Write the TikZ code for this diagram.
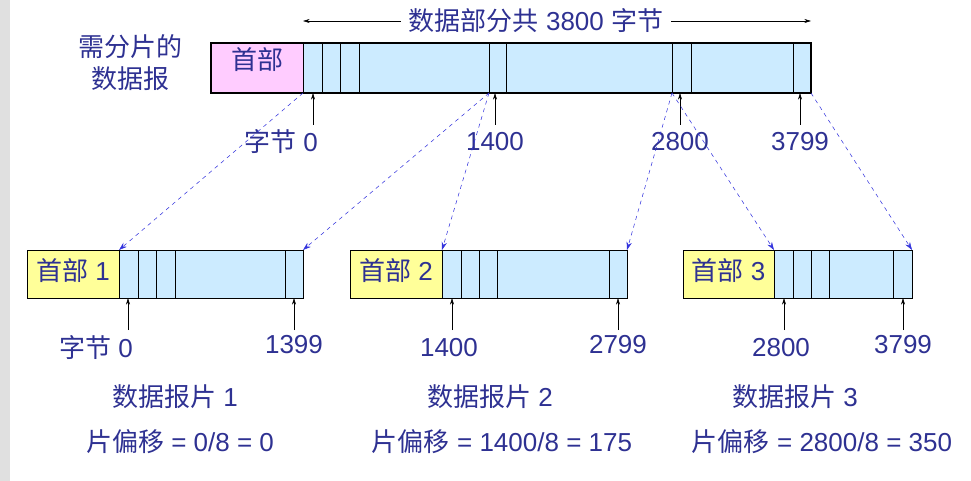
\documentclass[tikz,border=0pt]{standalone}
\usepackage{fontspec}
\setmainfont{Liberation Sans}
\newfontfamily\cjk{Noto Sans CJK SC}
\newcommand{\zh}[1]{{\cjk #1}}
\usetikzlibrary{arrows.meta, positioning}
\definecolor{txtblue}{HTML}{2E3192}
\definecolor{cellblue}{HTML}{CCEBFF}
\definecolor{hdrpink}{HTML}{FFCCFF}
\definecolor{hdryellow}{HTML}{FFFF99}
\definecolor{linkblue}{HTML}{3333DD}

\begin{document}
\begin{tikzpicture}[x=0.75pt, y=-0.75pt,
		every node/.append style={font=\fontsize{19.5}{22}\selectfont, text=txtblue, inner sep=0pt},
		upmark/.style={-{Stealth[length=5pt,width=3pt]}, thin},
		link/.style={dashed, linkblue, -{Stealth[length=6pt,width=4pt]}, thin},]
		\useasboundingbox (0,0) rectangle (971,481);
		\fill[black!12] (0,0) rectangle (10,481);

		% datagram to be fragmented
		\fill[cellblue] (303,43) rectangle (811,93);
		\fill[hdrpink] (211,43) rectangle (303,93);
		\node (hdr) at (257,60) {\zh{首部}};
		\foreach \x in {303,322,340,359,489,506,672,691,793}
			\draw (\x,43) -- (\x,93);
		\draw[very thick] (211,43) rectangle (811,93);
		\node (caption) [align=center] at (130,63) {\zh{需分片的}\\[2pt]\zh{数据报}};

		\node (total) at (536,21) {\zh{数据部分共} 3800 \zh{字节}};
		\draw[-{Stealth[length=5pt,width=3pt]}] (total.west) ++(-8,0) -- (303,21);
		\draw[-{Stealth[length=5pt,width=3pt]}] (total.east) ++(8,0) -- (811,21);

		\foreach \x/\d/\t in {313/-32/\zh{字节} 0, 495/0/1400, 680/0/2800, 800/0/3799} {
			\draw[upmark] (\x,125) -- (\x,93);
			\node at (\x+\d,142) {\t};
		}

		% fragments
		\foreach \i/\l/\h/\r/\a/\b/\c/\d/\p/\q/\lp/\m/\lq/\cx in {
				1/27/119/303/138/156/175/285/128/294/\zh{字节} 0/-32/1399/175,
				2/350/442/627/461/479/497/609/452/618/1400/-3/2799/490,
				3/683/774/912/793/811/829/893/784/903/2800/-3/3799/795} {
			\fill[cellblue] (\h,250) rectangle (\r,298);
			\fill[hdryellow] (\l,250) rectangle (\h,298);
			\draw (\l,250) rectangle (\r,298);
			\foreach \x in {\h,\a,\b,\c,\d}
				\draw (\x,250) -- (\x,298);
			\node (frag\i) at ({(\l+\h)/2},271) {\zh{首部} \i};
			\draw[upmark] (\p,330) -- (\p,298);
			\draw[upmark] (\q,330) -- (\q,298);
			\node at (\p+\m,348) {\lp};
			\node at (\q,345) {\lq};
			\node (name\i) at (\cx,397) {\zh{数据报片} \i};
		}
		\node at (180,442) {\zh{片偏移} = 0/8 = 0};
		\node at (502,442) {\zh{片偏移} = 1400/8 = 175};
		\node at (822,442) {\zh{片偏移} = 2800/8 = 350};

		% mapping of data parts
		\coordinate (s0) at (303,93);
		\coordinate (s1) at (489,93);
		\coordinate (s2) at (672,93);
		\coordinate (s3) at (811,93);
		\draw[link] (s0) -- (119,250);
		\draw[link] (s1) -- (303,250);
		\draw[link] (s1) -- (442,250);
		\draw[link] (s2) -- (627,250);
		\draw[link] (s2) -- (774,250);
		\draw[link] (s3) -- (912,250);
	\end{tikzpicture}
\end{document}
